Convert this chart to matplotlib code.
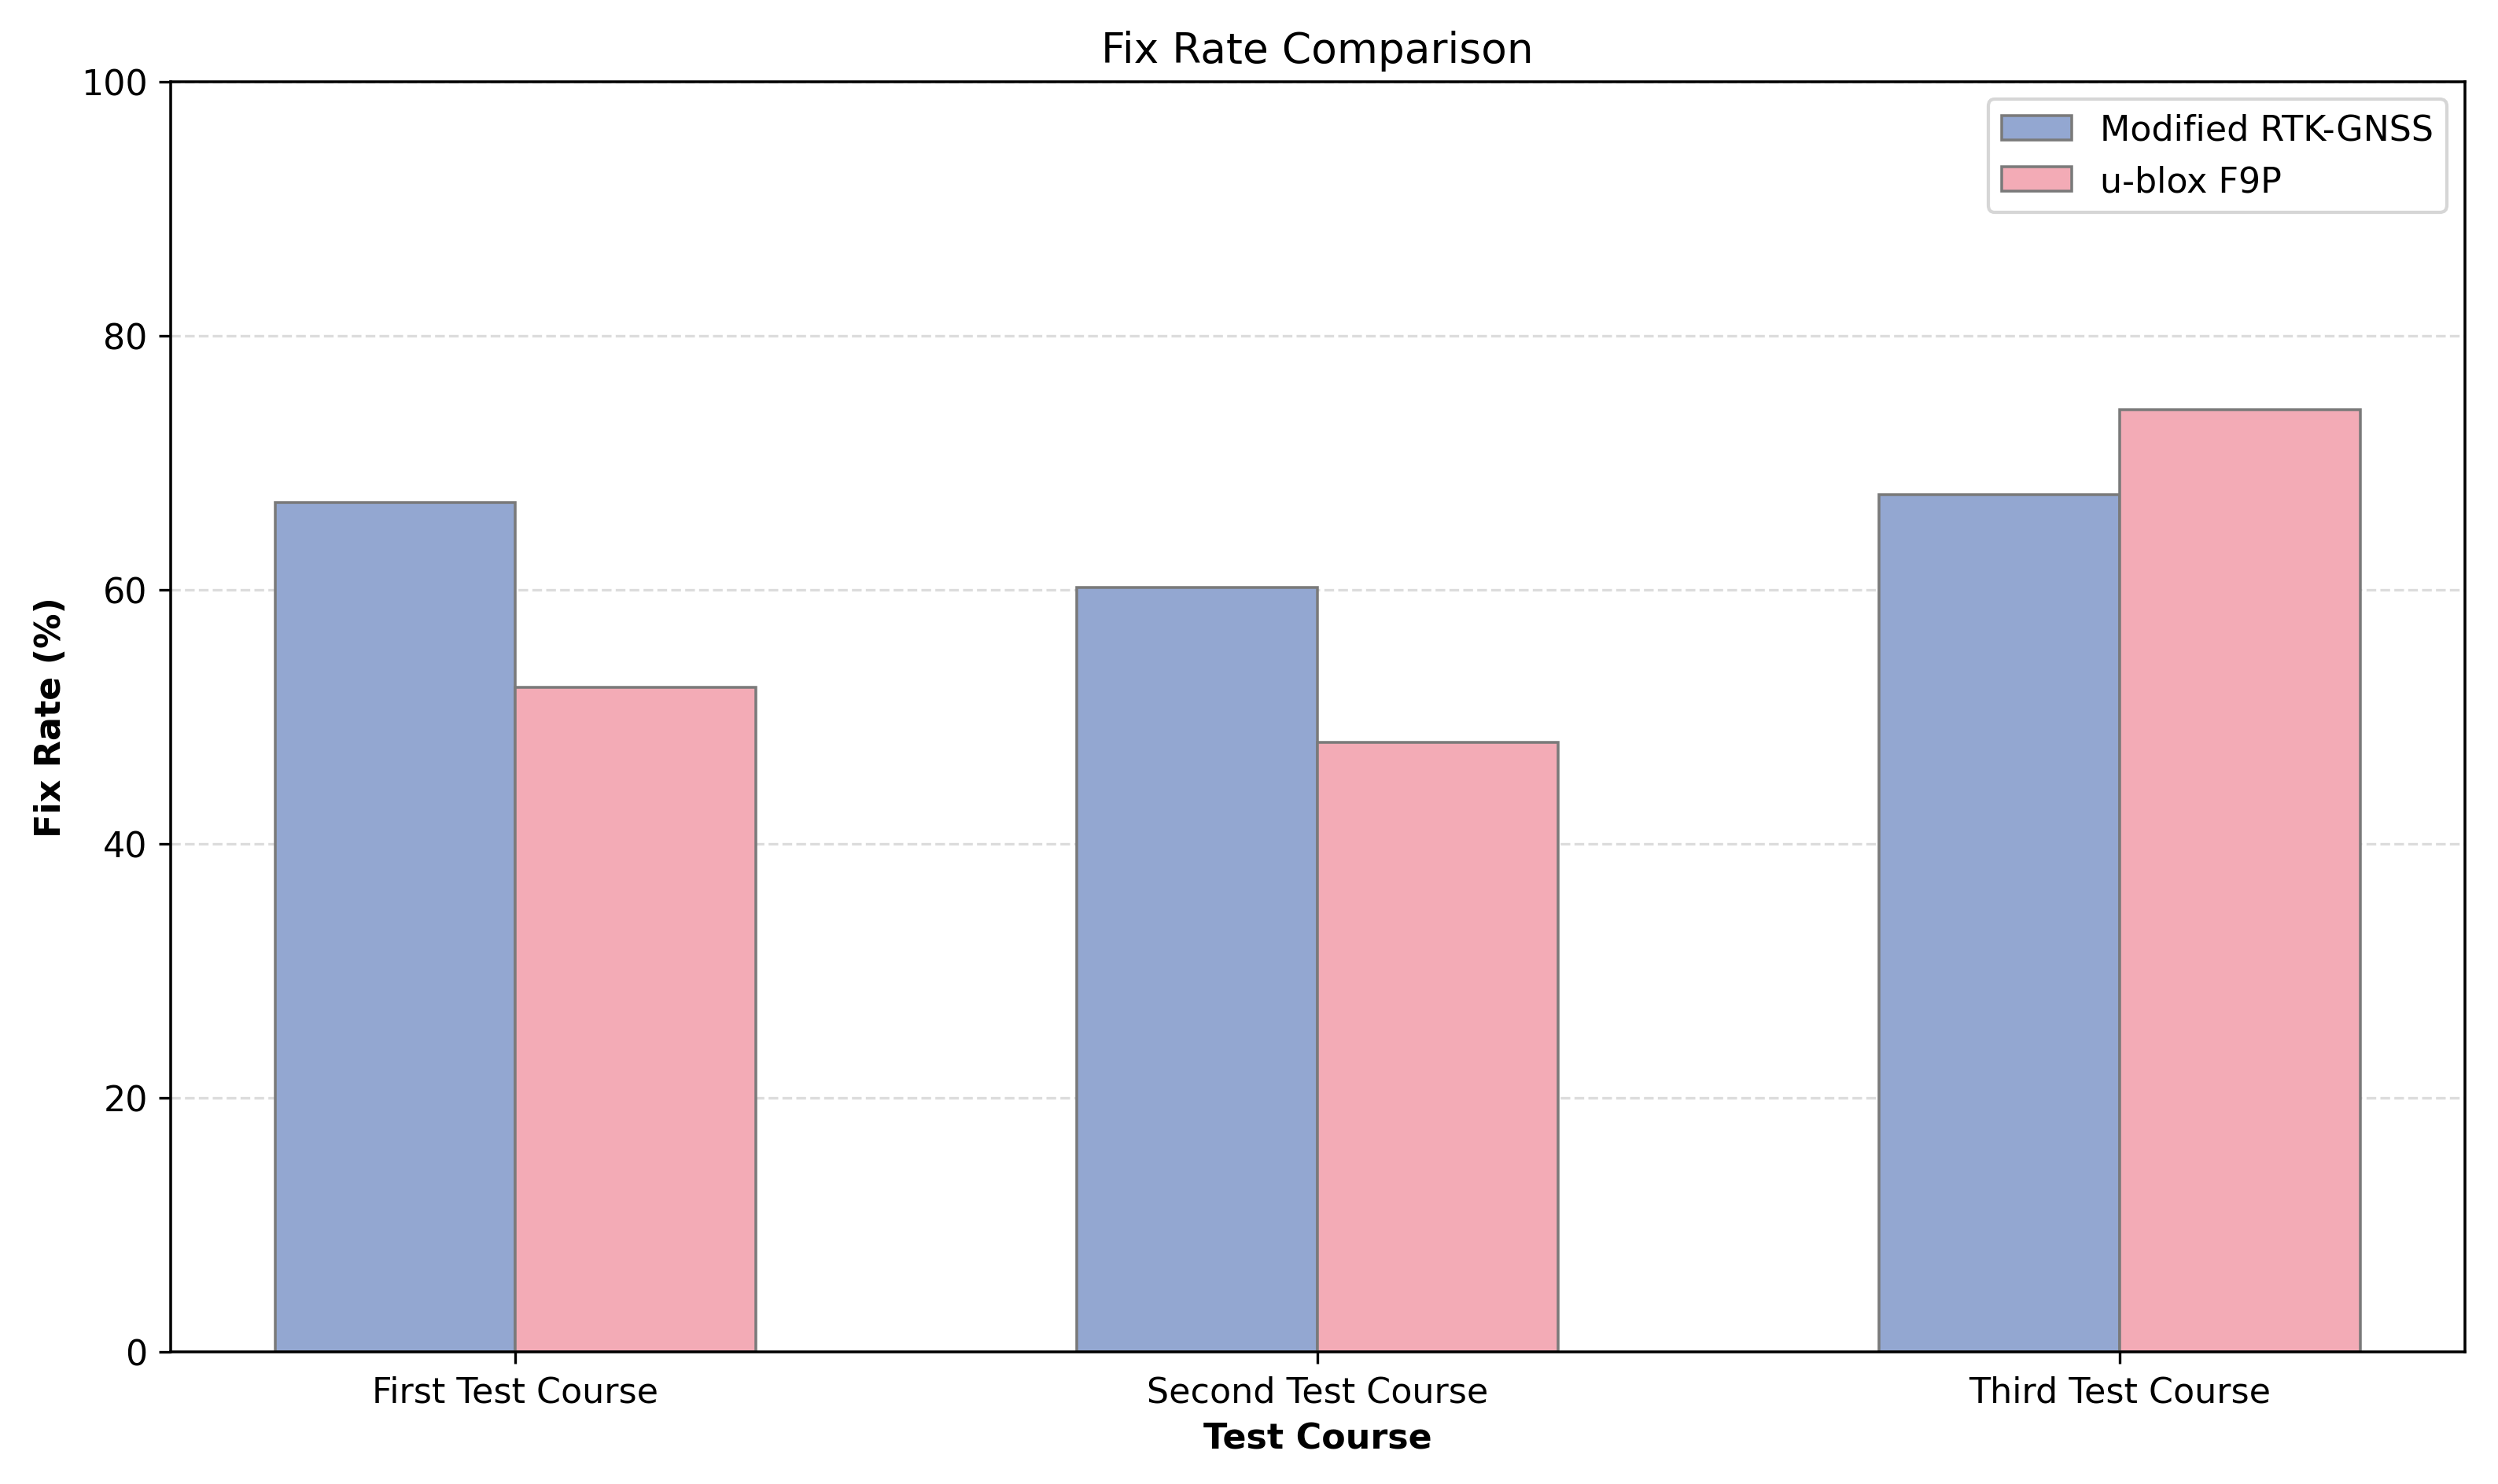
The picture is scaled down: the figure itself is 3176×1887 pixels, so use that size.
import numpy as np
import matplotlib
matplotlib.use("Agg")
import matplotlib.pyplot as plt

# Fix rate values (%)
courses = ["First Test Course", "Second Test Course", "Third Test Course"]
modified_rtk = [66.9, 60.2, 67.5]
ublox_f9p = [52.3, 48.0, 74.2]
series_names = ["Modified RTK-GNSS", "u-blox F9P"]


def main():
    # reference text is a bit larger than the default 10pt
    plt.rcParams["font.size"] = 10.65
    plt.rcParams["axes.linewidth"] = 0.85

    x = np.arange(len(courses))
    width = 0.3

    fig, ax = plt.subplots(figsize=(10.587, 6.293))
    fig.subplots_adjust(left=0.0683, right=0.9866, top=0.9444, bottom=0.089)

    # blue bars sit left of the tick, pink bars right of it
    ax.bar(x - width / 2, modified_rtk, width, label=series_names[0],
           color="#93a7d1", edgecolor="#7a7a7a", linewidth=0.85)
    ax.bar(x + width / 2, ublox_f9p, width, label=series_names[1],
           color="#f3abb6", edgecolor="#7a7a7a", linewidth=0.85)

    ax.set_ylim(0, 100)
    ax.set_xticks(x)
    ax.set_xticklabels(courses)
    ax.set_xlabel("Test Course", fontweight="bold")
    ax.set_ylabel("Fix Rate (%)", fontweight="bold")
    ax.set_title("Fix Rate Comparison", fontsize=12.8)

    ax.grid(axis="y", linestyle="--", alpha=0.5, color="#bbbbbb")
    ax.set_axisbelow(True)
    ax.legend(loc="upper right")

    plt.savefig("out.png", dpi=300)
    plt.close()


if __name__ == "__main__":
    main()
